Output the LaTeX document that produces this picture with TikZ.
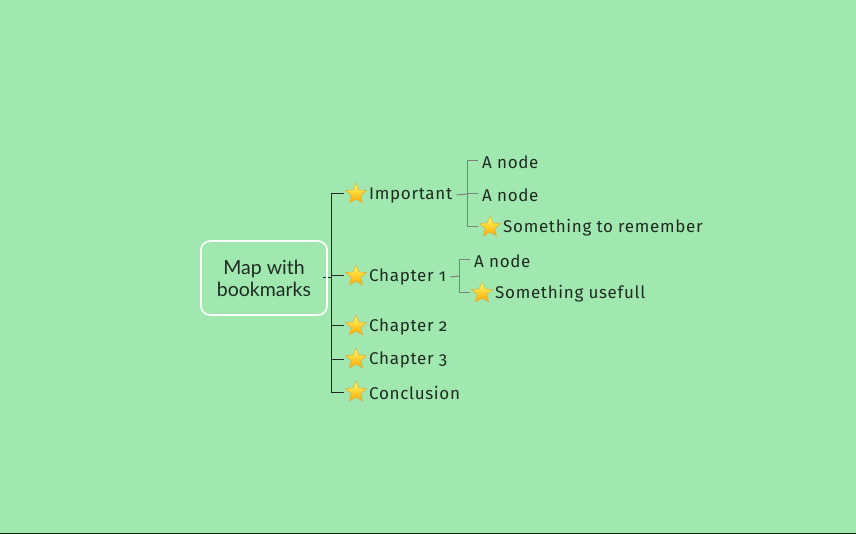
\documentclass[tikz,border=0pt]{standalone}
\usepackage{fontspec}
\setmainfont{Fira Sans}[Numbers=OldStyle, LetterSpace=4]
\newfontfamily\rootfont{Lato}
\usetikzlibrary{shapes.geometric, positioning}
\definecolor{mapbg}{HTML}{A1E8B0}
\definecolor{inkdark}{HTML}{1E2B22}

\begin{document}
\begin{tikzpicture}[
    x=1pt, y=-1pt,
    bookmark/.style={star, star points=5, star point ratio=2.2, minimum size=22pt, inner sep=0pt, draw=yellow!35!brown, line width=0.6pt, top color=yellow!60!white, bottom color=orange!70!yellow},
    topic/.style={anchor=west, inner sep=0pt, text=inkdark, font=\fontsize{17}{19}\selectfont},
    trunk/.style={draw=black!85, line width=1pt},
    branch/.style={draw=black!50, line width=1pt}
]

    % 1. Background
    \fill[mapbg] (0,0) rectangle (856,534);
    \fill[black!85!green] (0,533) rectangle (856,534);
    \useasboundingbox (0,0) rectangle (856,534);

    % 2. Central topic
    \node[draw=white, line width=1.6pt, rounded corners=9pt, minimum width=126pt, minimum height=74pt, align=center, text=inkdark, font=\rootfont\fontsize{19.5}{22}\selectfont] (root) at (264,278) {Map with\\bookmarks};

    % 3. Main topics with bookmarks
    \foreach \name/\y/\txt in {imp/194/Important, ch1/276/Chapter 1, ch2/326/Chapter 2, ch3/359/Chapter 3, concl/392/Conclusion} {
        \node[bookmark] (\name-star) at (356,\y) {};
        \node[topic, right=6pt of \name-star, yshift=-1pt] (\name) {\txt};
    }

    % 4. Trunk from the central topic
    \coordinate (hub) at (331,278);
    \draw[trunk, dashed, dash pattern=on 3pt off 2pt] ([xshift=-5pt]root.east) -- (hub);
    \foreach \name in {imp, ch1, ch2, ch3, concl} {
        \draw[trunk] (hub) |- ([xshift=-5pt]\name-star.west);
    }

    % 5. Subtopics of Important
    \node[topic] (imp-a) at (482,162) {A node};
    \node[topic] (imp-b) at (482,195) {A node};
    \node[bookmark] (imp-c-star) at (490,227) {};
    \node[topic, right=6pt of imp-c-star, yshift=-1pt] (imp-c) {Something to remember};
    \coordinate (imp-hub) at (467,194);
    \draw[branch] ([xshift=4pt]imp.east) -- (imp-hub);
    \draw[branch] (imp-hub) |- ([xshift=-4pt, yshift=1pt]imp-a.west);
    \draw[branch] (imp-hub) -- ([xshift=-4pt]imp-b.west |- imp-hub);
    \draw[branch] (imp-hub) |- ([xshift=-5pt]imp-c-star.west);

    % 6. Subtopics of Chapter 1
    \node[topic] (ch1-a) at (474,261) {A node};
    \node[bookmark] (ch1-b-star) at (482,293) {};
    \node[topic, right=6pt of ch1-b-star, yshift=-1pt] (ch1-b) {Something usefull};
    \coordinate (ch1-hub) at (459,276);
    \draw[branch] ([xshift=4pt]ch1.east) -- (ch1-hub);
    \draw[branch] (ch1-hub) |- ([xshift=-4pt, yshift=1pt]ch1-a.west);
    \draw[branch] (ch1-hub) |- ([xshift=-5pt]ch1-b-star.west);

\end{tikzpicture}
\end{document}
